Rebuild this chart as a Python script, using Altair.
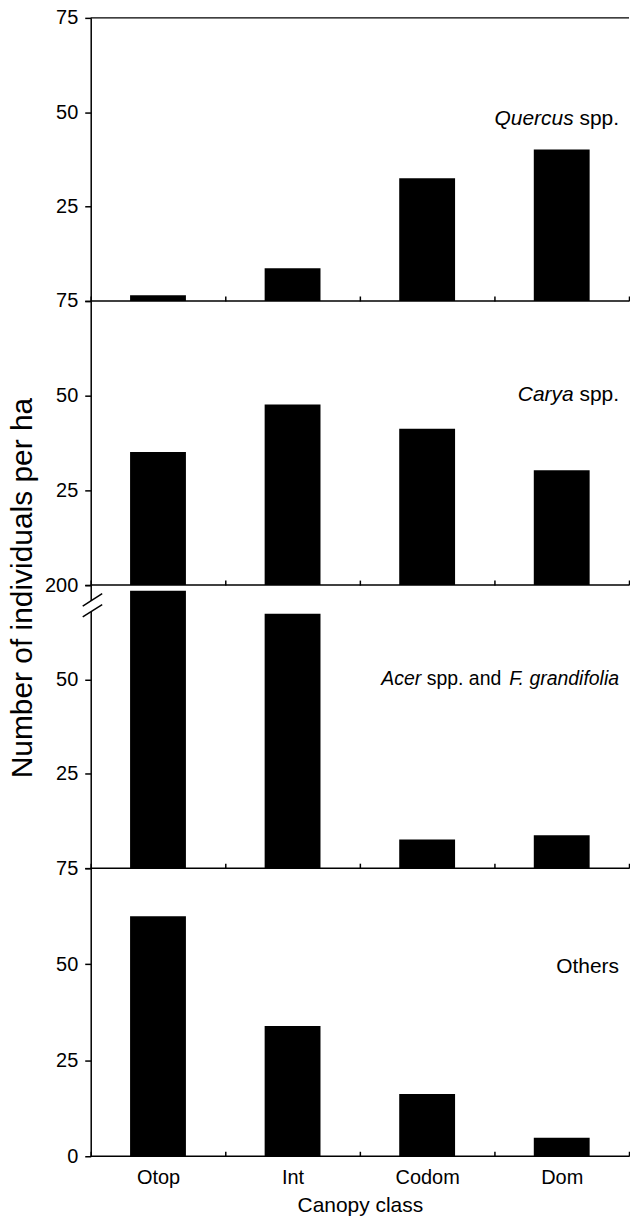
import altair as alt
import pandas as pd

# ---------------- data ----------------
categories = ["Otop", "Int", "Codom", "Dom"]
quercus = [1.5, 8.7, 32.5, 40.1]
carya = [35.1, 47.7, 41.3, 30.3]
acer_fagus = [200.0, 67.4, 7.6, 8.7]
others = [62.5, 33.9, 16.2, 4.8]
y_ticks = [0, 25, 50, 75]
x_title = "Canopy class"
y_title = "Number of individuals per ha"

FONT = "Liberation Sans"
W = 540
BREAK_TOP = 73.5  # displayed height of the broken bar

x_scale = alt.Scale(domain=categories, paddingInner=0, paddingOuter=0)
y_scale = alt.Scale(domain=[0, 75], nice=False)


def y_axis(label_expr):
    return alt.Axis(values=y_ticks, labelExpr=label_expr, title=None, grid=False,
                    tickSize=6, tickColor="black", tickWidth=1.5,
                    domainColor="black", domainWidth=1.5,
                    labelFontSize=20, labelFont=FONT, labelColor="black",
                    labelPadding=7, zindex=0)


def x_axis(show):
    kw = dict(tickBand="extent", offset=-5, tickSize=5, domain=False,
              tickColor="black", tickWidth=1.5, labelAngle=0,
              labelFontSize=20, labelFont=FONT, labelColor="black", labelPadding=11,
              zindex=1)
    if show:
        return alt.Axis(title=x_title, titleFontSize=21, titleFont=FONT,
                        titleFontWeight="normal", titleColor="black", titlePadding=7, **kw)
    return alt.Axis(title=None, labels=False, **kw)


def text_layer(txt, x, y, italic=False, size=21, align="right", angle=0):
    props = dict(align=align, baseline="alphabetic", fontSize=size, font=FONT,
                 color="black", fontStyle="italic" if italic else "normal")
    if angle:
        props["angle"] = angle
        props["baseline"] = "middle"
    return alt.Chart(pd.DataFrame({"t": [txt]})).mark_text(**props).encode(
        x=alt.value(x), y=alt.value(y), text="t:N")


def panel(values, height, label_expr, show_x, labels, top_line=False, extra=()):
    df = pd.DataFrame({"cls": categories, "n": values})
    ya = y_axis(label_expr)
    bars = alt.Chart(df).transform_calculate(
        shown=f"min(datum.n, {BREAK_TOP})"
    ).mark_bar(color="black", width=alt.RelativeBandSize(0.415)).encode(
        x=alt.X("cls:N", scale=x_scale, sort=categories, axis=x_axis(show_x)),
        y=alt.Y("shown:Q", scale=y_scale, axis=ya),
    )
    layers = [bars]
    base_rule = alt.Chart(pd.DataFrame({"v": [0]})).mark_rule(
        color="black", strokeWidth=1.5).encode(y=alt.Y("v:Q", scale=y_scale, axis=ya))
    layers.append(base_rule)
    if top_line:
        layers.append(alt.Chart(pd.DataFrame({"v": [75]})).mark_rule(
            color="black", strokeWidth=1.5).encode(y=alt.Y("v:Q", scale=y_scale, axis=ya)))
    for (txt, x, y, it, sz) in labels:
        layers.append(text_layer(txt, x, y, italic=it, size=sz))
    layers.extend(extra)
    return alt.layer(*layers).properties(width=W, height=height)


SPP_W = 39.7 + 5.84  # width of "spp." plus a space at 21px

p1 = panel(quercus, 284, "datum.value == 0 ? '' : datum.label", False,
           [("spp.", 530, 107, False, 21), ("Quercus", 530 - SPP_W, 107, True, 21)],
           top_line=True)

p2 = panel(carya, 285, "datum.value == 0 ? '' : datum.label", False,
           [("spp.", 530, 100, False, 21), ("Carya", 530 - SPP_W, 100, True, 21)])

# axis break marks for panel 3
gap = alt.Chart(pd.DataFrame({"k": [0]})).mark_rule(color="white", strokeWidth=4).encode(
    x=alt.value(0), y=alt.value(16), y2=alt.value(27))
diag1 = alt.Chart(pd.DataFrame({"k": [0]})).mark_rule(color="black", strokeWidth=1.5).encode(
    x=alt.value(-8), y=alt.value(21), x2=alt.value(11.5), y2=alt.value(8.5))
diag2 = alt.Chart(pd.DataFrame({"k": [0]})).mark_rule(color="black", strokeWidth=1.5).encode(
    x=alt.value(-8), y=alt.value(32), x2=alt.value(11.5), y2=alt.value(19.5))
ytitle = text_layer(y_title, -68, 3, size=30, align="center", angle=270)

AS = 19.5 / 1000.0  # font scale for the Acer label
w_fg = 5780 * AS
w_sa = 3836 * AS
w_sp = 278 * AS
p3 = panel(acer_fagus, 284,
           "datum.value == 75 ? '200' : (datum.value == 0 ? '' : datum.label)", False,
           [("F. grandifolia", 530, 100, True, 19.5),
            ("spp. and", 530 - w_fg - w_sp, 100, False, 19.5),
            ("Acer", 530 - w_fg - w_sa - 2 * w_sp, 100, True, 19.5)],
           extra=(gap, diag1, diag2, ytitle))

p4 = panel(others, 289, "datum.label", True, [("Others", 530, 105, False, 21)])

chart = alt.vconcat(p1, p2, p3, p4, spacing=0, bounds="flush").configure_view(
    stroke=None
).properties(
    padding={"left": 7, "top": 6, "right": 0, "bottom": 0},
    background="white",
)

chart.save("out.html", embed_options={"renderer": "svg", "actions": False})
